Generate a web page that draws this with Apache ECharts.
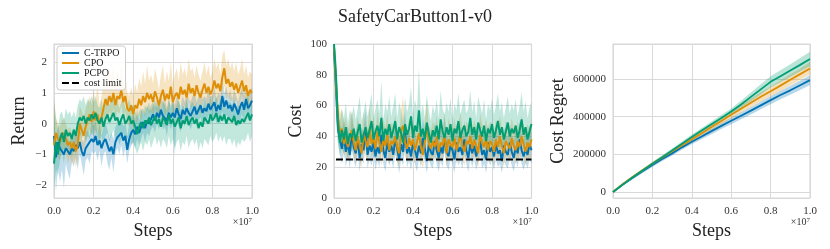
<!DOCTYPE html>
<html>
<head>
<meta charset="utf-8">
<script src="https://cdn.jsdelivr.net/npm/echarts@6/dist/echarts.min.js"></script>
<style>
html,body{margin:0;padding:0;background:#fff;}
#chart{width:830px;height:249px;}
</style>
</head>
<body>
<div id="chart"></div>
<script>
// ---------- DATA ----------
const title = 'SafetyCarButton1-v0';
const algos = ['C-TRPO', 'CPO', 'PCPO'];
const costLimit = 25;

// steps (in units of 1e7)
const steps = Array.from({length: 101}, (_, i) => +(i / 100).toFixed(2));
const regretSteps = Array.from({length: 21}, (_, k) => +(k / 20).toFixed(2));

// Return (mean)
const returnCTRPO = [-0.4,-1.1,-0.6,-0.8,-0.9,-1.0,-0.8,-0.9,-1.0,-0.8,
  -0.9,-0.7,-0.8,-0.6,-0.9,-1.05,-0.8,-0.7,-0.75,-0.5,
  -0.6,-0.4,-0.7,-0.55,-0.8,-0.6,-0.5,-0.7,-0.9,-0.75,
  -1.0,-0.6,-0.45,-0.5,-0.3,-0.55,-0.4,-0.85,-0.5,-0.3,
  -0.2,-0.35,-0.1,-0.3,-0.1,0.05,-0.15,0.1,0.0,0.15,
  0.3,0.1,0.35,0.2,0.45,0.25,0.3,0.1,0.35,0.2,
  0.35,0.2,0.5,0.3,0.15,0.45,0.3,0.5,0.35,0.25,
  0.4,0.55,0.3,0.45,0.6,0.35,0.5,0.4,0.65,0.45,
  0.5,0.7,0.4,0.6,0.45,0.9,0.55,0.75,0.5,0.6,
  0.4,0.65,0.5,0.3,0.55,0.7,0.45,0.8,0.5,0.6,0.75];
const returnCPO = [-0.7,-0.3,-0.5,-0.6,-0.4,-0.3,-0.5,-0.7,-0.6,-0.8,
  -0.6,-0.9,-0.7,0.0,-0.2,-0.4,-0.1,0.1,0.3,0.05,
  0.4,0.1,0.3,0.0,0.2,0.5,0.8,0.6,0.9,0.7,
  1.0,0.6,0.9,0.8,1.1,0.7,0.9,0.5,0.4,0.6,
  0.3,0.6,0.5,0.8,0.6,0.9,0.7,1.0,0.8,0.95,
  0.7,1.05,0.85,0.6,0.9,1.1,0.75,0.95,0.8,1.2,
  0.7,0.9,1.0,0.8,1.2,0.95,1.1,0.85,1.3,1.0,
  1.15,0.9,1.25,1.0,0.85,1.1,1.3,1.0,1.2,0.95,
  1.1,1.4,1.15,1.3,1.05,1.5,1.8,1.3,1.45,1.2,
  1.35,1.1,1.3,1.0,1.2,1.4,1.05,1.25,0.9,1.1,1.0];
const returnPCPO = [-1.3,-0.6,-1.0,-0.5,-0.3,-0.6,-0.2,-0.4,-0.3,-0.5,
  -0.2,-0.4,0.0,0.2,0.1,0.25,0.0,0.2,0.1,0.3,
  0.15,0.35,0.1,0.0,0.2,-0.1,0.15,0.3,0.05,0.2,
  0.35,0.1,0.2,-0.05,0.15,0.3,0.0,0.1,0.25,0.0,
  0.1,-0.1,-0.35,-0.1,0.05,-0.15,0.1,0.0,0.2,-0.05,
  0.1,0.25,0.0,0.15,-0.1,0.2,0.1,-0.05,0.3,0.0,
  0.15,-0.1,0.05,0.2,-0.15,0.1,0.0,0.25,-0.05,0.1,
  0.2,0.0,0.15,-0.15,0.05,-0.1,0.2,0.1,0.0,0.3,
  0.1,0.2,0.35,0.05,0.25,0.1,0.3,0.0,0.2,0.15,
  0.05,0.25,-0.05,0.1,0.0,0.15,0.05,0.2,0.35,0.1,0.3];

// Return bands (lower / upper)
const returnLoCTRPO = [-1.0,-2.2,-1.4,-1.9,-1.5,-2.1,-1.3,-1.6,-1.8,-1.2,
  -1.4,-1.1,-1.5,-1.0,-1.3,-1.7,-1.2,-1.1,-1.3,-0.9,
  -1.0,-0.9,-1.2,-0.9,-1.4,-1.0,-0.9,-1.3,-1.5,-1.1,
  -1.6,-1.0,-0.8,-1.0,-0.7,-1.1,-0.8,-1.3,-0.9,-0.7,
  -0.6,-0.8,-0.5,-0.7,-0.5,-0.3,-0.6,-0.3,-0.4,-0.2,
  -0.1,-0.3,0.0,-0.2,0.1,-0.2,-0.1,-0.4,0.0,-0.2,
  0.0,-1.05,0.1,-0.1,-0.3,0.1,-0.1,0.1,0.0,-0.2,
  0.0,0.2,-0.1,0.1,0.2,-0.1,0.1,0.0,0.3,0.0,
  0.1,0.3,0.0,0.2,0.0,0.4,0.1,0.3,0.1,0.2,
  0.0,0.2,0.1,-0.1,0.1,0.3,0.0,0.4,0.1,0.2,0.3];
const returnHiCTRPO = [0.3,-0.6,0.0,-0.4,-0.5,-0.6,-0.2,-0.5,-0.6,-0.3,
  -0.5,-0.2,-0.4,-0.1,-0.5,-0.6,-0.3,-0.2,-0.4,0.1,
  -0.1,0.1,-0.3,0.0,-0.4,-0.1,0.0,-0.2,-0.5,-0.3,
  -0.5,-0.1,0.0,-0.1,0.2,-0.1,0.1,-0.4,0.0,0.2,
  0.3,0.1,0.5,0.1,0.4,0.5,0.3,0.6,0.4,0.6,
  0.7,0.5,0.8,0.6,0.9,0.7,0.8,0.5,0.8,0.6,
  0.8,0.6,0.9,0.7,0.6,0.9,0.7,1.0,0.8,0.7,
  0.9,1.0,0.7,0.9,1.1,0.8,0.9,0.8,1.2,0.9,
  0.9,1.2,0.8,1.0,0.9,1.4,1.0,1.2,0.9,1.1,
  0.8,1.1,0.9,0.7,1.0,1.2,0.9,1.3,0.9,1.0,1.2];
const returnLoCPO = [-1.5,-0.9,-1.1,-1.2,-0.9,-0.8,-1.0,-1.3,-1.1,-1.4,
  -1.1,-1.4,-1.2,-0.5,-0.7,-0.9,-0.6,-0.4,-0.2,-0.4,
  -0.1,-0.4,-0.2,-0.5,-0.3,0.0,0.3,0.1,0.4,0.2,
  0.5,0.1,0.4,0.3,0.6,0.2,0.4,0.0,-0.1,0.1,
  -0.2,0.1,0.0,0.3,0.1,0.4,0.2,0.5,0.3,0.4,
  0.2,0.5,0.3,0.1,0.4,0.6,0.2,0.4,0.3,0.7,
  0.2,0.4,0.5,0.3,0.7,0.4,0.6,0.3,0.8,0.5,
  0.6,0.4,0.7,0.5,0.3,0.6,0.8,0.5,0.7,0.4,
  0.6,0.9,0.6,0.8,0.5,1.0,1.2,0.8,0.9,0.7,
  0.8,0.6,0.8,0.5,0.7,0.9,0.5,0.7,0.4,0.6,0.5];
const returnHiCPO = [0.8,0.2,0.0,-0.1,0.1,0.2,0.0,-0.2,-0.1,-0.3,
  -0.1,-0.3,-0.1,0.6,0.4,0.2,0.5,0.7,0.9,0.6,
  1.1,0.7,1.3,0.6,0.9,1.4,1.9,1.2,1.8,1.4,
  1.9,1.2,1.7,1.4,2.0,1.3,1.6,1.0,0.9,1.2,
  0.9,1.3,1.0,1.5,1.2,1.7,1.3,1.9,1.4,1.6,
  1.3,1.8,1.5,1.1,1.6,1.9,1.3,1.7,1.4,2.0,
  1.3,1.6,1.8,1.4,2.0,1.6,1.8,1.5,2.1,1.7,
  1.8,1.5,1.9,1.6,1.4,1.7,2.0,1.6,1.9,1.5,
  1.7,2.1,1.8,2.0,1.6,2.2,2.4,1.9,2.1,1.8,
  2.0,1.7,2.0,1.6,1.8,2.1,1.6,1.9,1.5,1.7,1.6];
const returnLoPCPO = [-2.2,-1.5,-1.7,-1.2,-0.9,-1.3,-0.8,-1.0,-0.9,-1.1,
  -0.8,-1.0,-0.5,-0.3,-0.5,-0.3,-0.6,-0.4,-0.5,-0.3,
  -0.4,-0.2,-0.5,-0.6,-0.4,-0.7,-0.4,-0.3,-0.6,-0.4,
  -0.2,-0.5,-0.4,-0.7,-0.5,-0.3,-0.7,-0.5,-0.4,-0.7,
  -0.6,-0.8,-1.0,-0.8,-0.6,-0.9,-0.6,-0.7,-0.5,-0.8,
  -0.6,-0.4,-0.7,-0.5,-0.8,-0.5,-0.6,-0.8,-0.4,-0.7,
  -0.5,-0.8,-0.6,-0.5,-0.9,-0.6,-0.7,-0.4,-0.8,-0.6,
  -0.5,-0.7,-0.5,-0.9,-0.6,-0.8,-0.5,-0.6,-0.7,-0.4,
  -0.6,-0.5,-0.3,-0.6,-0.4,-0.6,-0.4,-0.7,-0.5,-0.5,
  -0.7,-0.5,-0.8,-0.6,-0.7,-0.5,-0.6,-0.5,-0.3,-0.6,-0.4];
const returnHiPCPO = [0.7,0.2,-0.2,0.3,0.4,0.1,0.5,0.3,0.4,0.2,
  0.4,0.2,0.6,0.8,0.7,0.9,0.6,0.8,0.7,0.9,
  0.7,0.9,0.6,0.5,0.8,0.4,0.7,0.9,0.6,0.8,
  0.9,0.6,0.8,0.5,0.7,0.9,0.5,0.6,0.8,0.5,
  0.6,0.4,0.2,0.4,0.5,0.3,0.6,0.5,0.7,0.4,
  0.6,0.8,0.5,0.7,0.4,0.7,0.6,0.4,0.8,0.5,
  0.7,0.4,0.6,0.8,0.4,0.6,0.5,0.8,0.4,0.6,
  0.7,0.5,0.7,0.4,0.6,0.5,0.8,0.6,0.5,0.9,
  0.6,0.7,0.9,0.6,0.8,0.6,0.9,0.5,0.7,0.7,
  0.6,0.8,0.5,0.6,0.5,0.7,0.6,0.8,0.9,0.6,0.9];

// Cost (mean)
const costCTRPO = [95,72,45,38,32,40,30,36,28,42,
  33,29,38,26,35,31,44,28,34,30,
  37,27,33,29,41,31,26,36,30,34,
  28,38,32,25,35,30,43,29,33,27,
  36,31,26,34,29,39,32,24,35,30,
  28,37,31,26,33,29,40,30,27,34,
  31,25,36,30,33,28,38,31,26,35,
  29,34,27,32,37,28,31,25,36,30,
  33,27,35,29,31,24,34,30,28,36,
  30,26,33,29,38,31,27,32,28,35,31];
const costCPO = [98,75,52,42,45,35,40,33,38,44,
  36,31,40,34,29,42,37,33,45,35,
  39,32,43,36,30,38,34,41,31,37,
  35,40,33,29,44,47,36,32,39,34,
  38,31,36,42,33,28,37,48,35,32,
  37,33,40,30,36,34,41,29,38,35,
  33,39,31,36,42,34,30,37,35,40,
  32,38,34,29,41,36,33,39,31,37,
  35,30,38,33,40,34,29,37,36,32,
  39,34,31,37,33,40,35,30,36,33,38];
const costPCPO = [100,80,48,36,44,38,46,35,42,39,
  45,37,43,48,36,41,46,39,44,50,
  38,43,47,40,52,37,45,41,48,39,
  44,50,38,46,42,36,48,41,45,53,
  39,47,43,57,40,45,38,49,42,36,
  44,40,47,38,51,43,39,46,41,48,
  37,45,42,50,39,44,47,40,43,52,
  41,46,38,49,44,40,47,37,45,42,
  48,39,44,50,41,46,38,43,49,40,
  45,42,47,39,44,51,41,46,38,43,48];

// Cost bands (lower / upper)
const costLoCTRPO = [88,55,35,28,22,30,20,27,19,31,
  24,20,28,17,26,22,33,19,25,21,
  27,18,24,20,31,22,17,26,21,25,
  19,28,23,16,25,21,32,20,24,18,
  26,22,17,25,20,29,23,16,25,21,
  19,27,22,17,24,20,30,21,18,25,
  22,16,26,21,24,19,28,22,17,25,
  20,25,18,23,27,19,22,16,26,21,
  24,18,25,20,22,16,25,21,19,26,
  21,17,24,20,28,22,18,23,19,25,22];
const costHiCTRPO = [100,85,55,48,44,52,42,47,38,54,
  45,40,50,37,46,42,58,39,47,41,
  49,38,45,40,55,42,37,48,41,46,
  39,50,44,36,47,41,57,40,45,38,
  48,43,37,46,40,52,44,35,47,41,
  39,49,42,37,45,40,53,41,38,46,
  42,36,48,41,45,39,50,42,37,47,
  40,46,38,44,49,39,42,36,48,41,
  45,38,47,40,42,35,46,41,39,48,
  41,37,45,40,50,42,38,44,39,47,42];
const costLoCPO = [92,60,40,32,34,26,30,24,28,33,
  27,22,30,25,20,32,27,24,34,26,
  29,23,33,27,21,28,25,31,22,27,
  26,30,24,20,34,37,27,23,29,25,
  28,22,27,32,24,19,27,38,26,23,
  27,24,30,21,27,25,31,20,28,26,
  24,29,22,27,32,25,21,27,26,30,
  23,28,25,20,31,27,24,29,22,27,
  26,21,28,24,30,25,20,27,27,23,
  29,25,22,27,24,30,26,21,27,24,28];
const costHiCPO = [100,88,66,55,58,47,53,44,50,57,
  48,42,53,46,40,56,49,45,60,47,
  52,44,57,48,41,51,46,55,43,49,
  47,54,45,40,58,66,48,44,52,46,
  51,43,48,56,45,39,50,64,47,44,
  50,45,54,41,48,46,56,40,52,47,
  45,52,43,48,56,46,41,50,47,54,
  44,51,46,40,55,48,45,52,43,50,
  47,42,51,45,54,46,40,50,48,44,
  52,46,43,50,45,54,47,42,48,45,51];
const costLoPCPO = [94,62,36,27,33,29,35,26,32,30,
  34,28,33,37,27,31,35,30,34,39,
  29,33,36,31,41,28,35,31,37,30,
  34,39,29,35,32,27,37,31,35,42,
  30,36,33,45,31,35,29,38,32,27,
  34,31,36,29,40,33,30,35,31,37,
  28,35,32,39,30,34,36,31,33,41,
  31,35,29,38,34,31,36,28,35,32,
  37,30,34,39,31,35,29,33,38,31,
  35,32,36,30,34,40,31,35,29,33,37];
const costHiPCPO = [100,95,62,50,58,52,62,49,57,54,
  60,51,58,66,50,56,63,53,60,68,
  52,58,64,55,76,51,61,56,66,53,
  60,68,52,62,57,50,65,56,61,72,
  54,64,58,84,55,61,52,67,57,50,
  60,55,64,52,70,58,54,62,56,65,
  51,61,57,68,54,60,64,55,58,70,
  56,63,52,66,60,55,64,51,61,57,
  65,54,60,68,56,62,52,59,66,55,
  61,57,64,53,60,69,56,63,52,59,62];

// Cost regret
const regretCTRPO = [0,40000,75000,110000,143000,175000,205000,237000,267000,295000,323000,351000,378000,405000,432000,460000,488000,515000,540000,567000,594000];
const regretCPO = [0,42000,80000,116000,150000,183000,216000,248000,280000,312000,345000,377000,410000,442000,474000,506000,535000,565000,596000,626000,656000];
const regretPCPO = [0,40000,78000,114000,150000,185000,220000,256000,292000,326000,360000,393000,427000,465000,505000,545000,585000,615000,645000,675000,706000];
const regretLoCTRPO = [0,35000,68000,101000,133000,164000,193000,224000,253000,280000,307000,334000,360000,386000,412000,439000,466000,492000,516000,542000,568000];
const regretHiCTRPO = [0,45000,82000,119000,153000,186000,217000,250000,281000,310000,339000,368000,396000,424000,452000,481000,510000,538000,564000,592000,620000];
const regretLoCPO = [0,37000,73000,108000,141000,173000,205000,236000,267000,298000,330000,360000,392000,422000,452000,482000,510000,538000,567000,596000,624000];
const regretHiCPO = [0,47000,87000,124000,159000,193000,227000,260000,293000,326000,360000,394000,428000,462000,496000,530000,560000,592000,625000,656000,690000];
const regretLoPCPO = [0,35000,71000,106000,141000,175000,209000,244000,279000,312000,345000,377000,410000,445000,482000,518000,555000,583000,611000,640000,668000];
const regretHiPCPO = [0,45000,85000,122000,159000,195000,231000,268000,305000,340000,375000,409000,444000,485000,528000,572000,615000,647000,679000,711000,745000];

// ---------- CHART ----------
const colors = {'C-TRPO': '#0173b2', 'CPO': '#de8f05', 'PCPO': '#029e73'};
const FONT = 'Liberation Serif';
const gridColor = '#d9d9d9';

const pair = (xs, ys) => xs.map((x, i) => [x, ys[i]]);

// confidence band drawn as a polygon through the axis scales
function bandSeries(name, xs, lo, hi, gi, op) {
  const data = xs.map((x, i) => [x, lo[i], hi[i]]);
  return {
    type: 'custom', name: name + '_band', xAxisIndex: gi, yAxisIndex: gi,
    coordinateSystem: 'cartesian2d', silent: true, z: 1, data: data,
    encode: {x: 0, y: [1, 2]},
    renderItem: function (params, api) {
      if (params.dataIndex !== 0) return null;
      const upper = data.map(d => api.coord([d[0], d[2]]));
      const lower = data.map(d => api.coord([d[0], d[1]])).reverse();
      return {type: 'polygon', shape: {points: upper.concat(lower)},
        style: {fill: colors[name], opacity: op}};
    }
  };
}
function meanSeries(name, xs, ys, gi, w) {
  return {type: 'line', name: name, xAxisIndex: gi, yAxisIndex: gi, data: pair(xs, ys),
    symbol: 'none', z: 3, color: colors[name],
    lineStyle: {color: colors[name], width: w || 2}, emphasis: {disabled: true}};
}

const returnMeans = {'C-TRPO': returnCTRPO, 'CPO': returnCPO, 'PCPO': returnPCPO};
const returnLo = {'C-TRPO': returnLoCTRPO, 'CPO': returnLoCPO, 'PCPO': returnLoPCPO};
const returnHi = {'C-TRPO': returnHiCTRPO, 'CPO': returnHiCPO, 'PCPO': returnHiPCPO};
const costMeans = {'C-TRPO': costCTRPO, 'CPO': costCPO, 'PCPO': costPCPO};
const costLo = {'C-TRPO': costLoCTRPO, 'CPO': costLoCPO, 'PCPO': costLoPCPO};
const costHi = {'C-TRPO': costHiCTRPO, 'CPO': costHiCPO, 'PCPO': costHiPCPO};
const regMeans = {'C-TRPO': regretCTRPO, 'CPO': regretCPO, 'PCPO': regretPCPO};
const regLo = {'C-TRPO': regretLoCTRPO, 'CPO': regretLoCPO, 'PCPO': regretLoPCPO};
const regHi = {'C-TRPO': regretHiCTRPO, 'CPO': regretHiCPO, 'PCPO': regretHiPCPO};

const series = [];
algos.forEach(a => {
  series.push(bandSeries(a, steps, returnLo[a], returnHi[a], 0, 0.24));
  series.push(meanSeries(a, steps, returnMeans[a], 0, 2));
});
algos.forEach(a => {
  series.push(bandSeries(a, steps, costLo[a], costHi[a], 1, 0.24));
  series.push(meanSeries(a, steps, costMeans[a], 1, 2));
});
series.push({type: 'line', name: 'cost limit', xAxisIndex: 1, yAxisIndex: 1,
  data: [[0.01, costLimit], [1, costLimit]], symbol: 'none', z: 5, color: '#000',
  lineStyle: {color: '#000', width: 2, type: [7, 3]}, emphasis: {disabled: true}});
algos.forEach(a => {
  series.push(bandSeries(a, regretSteps, regLo[a], regHi[a], 2, 0.28));
  series.push(meanSeries(a, regretSteps, regMeans[a], 2, 1.8));
});

const minus = v => (v < 0 ? '\u2212' + Math.abs(v) : String(v));

function xAxis(gi) {
  return {type: 'value', gridIndex: gi, min: 0, max: 1, interval: 0.2,
    name: 'Steps', nameLocation: 'middle', nameGap: 19,
    nameTextStyle: {fontFamily: FONT, fontSize: 18, color: '#222'},
    axisLine: {show: false}, axisTick: {show: false},
    axisLabel: {fontFamily: FONT, fontSize: 11, color: '#333', margin: 8,
      formatter: v => v.toFixed(1)},
    splitLine: {show: true, lineStyle: {color: gridColor, width: 1}}};
}
function yAxis(gi, name, min, max, gap, interval) {
  const ax = {type: 'value', gridIndex: gi, min: min, max: max,
    name: name, nameLocation: 'middle', nameGap: gap, nameRotate: 90,
    nameTextStyle: {fontFamily: FONT, fontSize: 18, color: '#222'},
    axisLine: {show: false}, axisTick: {show: false},
    axisLabel: {fontFamily: FONT, fontSize: 11, color: '#333', margin: 7,
      showMinLabel: interval ? true : false, showMaxLabel: interval ? true : false,
      formatter: minus},
    splitLine: {show: true, lineStyle: {color: gridColor, width: 1}}};
  if (interval) ax.interval = interval;
  return ax;
}

const gridBase = {top: 44, height: 154, show: true, borderColor: gridColor, borderWidth: 1.2,
  backgroundColor: 'transparent', containLabel: false};

const option = {
  animation: false,
  textStyle: {fontFamily: FONT},
  title: {text: title, left: 'center', top: 3,
    textStyle: {fontFamily: FONT, fontSize: 18, fontWeight: 'normal', color: '#222'}},
  legend: {data: ['C-TRPO', 'CPO', 'PCPO', 'cost limit'], orient: 'vertical',
    left: 57, top: 46, itemWidth: 17, itemHeight: 10, itemGap: 0,
    padding: [2, 4, 2, 4], backgroundColor: 'rgba(255,255,255,0.85)',
    borderColor: '#cccccc', borderWidth: 1, borderRadius: 3,
    itemStyle: {opacity: 0, borderWidth: 0},
    textStyle: {fontFamily: FONT, fontSize: 10, color: '#222', lineHeight: 10},
    selectedMode: false, z: 10},
  grid: [
    Object.assign({left: 54, width: 198}, gridBase),
    Object.assign({left: 334, width: 197.5}, gridBase),
    Object.assign({left: 613, width: 197}, gridBase)
  ],
  xAxis: [xAxis(0), xAxis(1), xAxis(2)],
  yAxis: [
    yAxis(0, 'Return', -2.42, 2.59, 26),
    yAxis(1, 'Cost', 0, 100, 29, 20),
    yAxis(2, 'Cost Regret', -32000, 786000, 46)
  ],
  graphic: [252, 531.7, 810].map(x => ({
    type: 'text', right: 830 - x, top: 217,
    style: {text: '×10{s|7}', fontFamily: FONT, fontSize: 10, fill: '#333',
      rich: {s: {fontSize: 7, verticalAlign: 'top', fontFamily: FONT, padding: [0, 0, 4, 0]}}}
  })),
  series: series
};

const chart = echarts.init(document.getElementById('chart'), null, {renderer: 'canvas'});
chart.setOption(option);
</script>
</body>
</html>
